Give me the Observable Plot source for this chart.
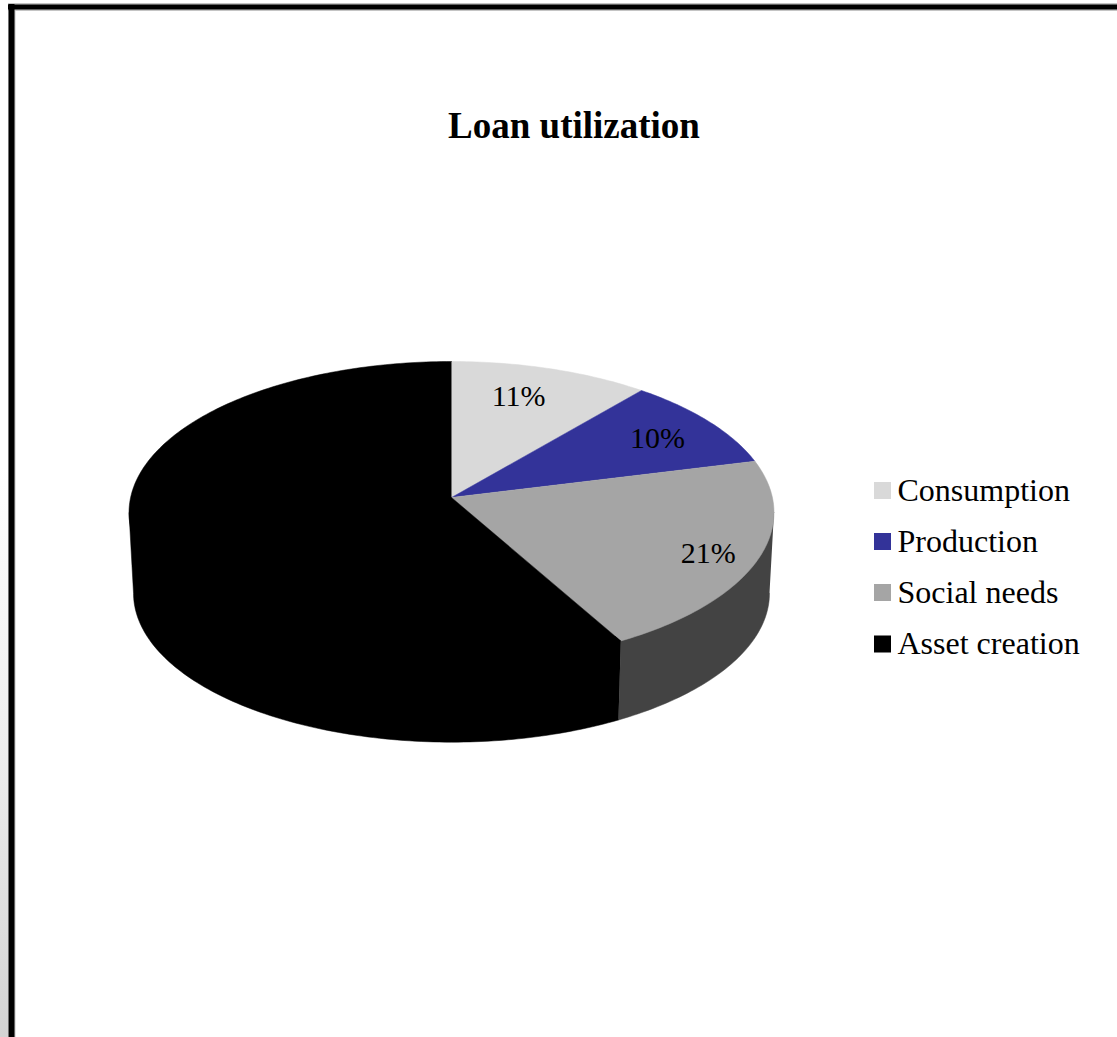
<!DOCTYPE html>
<html>
<head>
<meta charset="utf-8">
<script src="https://cdn.jsdelivr.net/npm/d3@7"></script>
<script src="https://cdn.jsdelivr.net/npm/@observablehq/plot@0.6"></script>
<style>
  html, body { margin: 0; padding: 0; background-color: #fff; }
  body {
    width: 1117px; height: 1037px; overflow: hidden;
    background-image: linear-gradient(to bottom, #fff 45%, #eee 72%, #d3d3d3 100%);
    background-size: 8px 100%;
    background-repeat: no-repeat;
  }
  svg { display: block; }
</style>
</head>
<body>
<div id="chart"></div>
<script>
// Loan utilization shares, in percent, clockwise from twelve o'clock
const categories = ["Consumption", "Production", "Social needs", "Asset creation"];
const shares = [11, 10, 21, 58];
const topColors = ["#d9d9d9", "#333399", "#a5a5a5", "#000000"];
const sideColors = ["#6d6d6d", "#1f1f5c", "#434343", "#000000"];

// Printed labels sit on the three visible slices, as polar spots on the disc
const labelTexts = ["11%", "10%", "21%"];
const labelAngles = [17.2, 58.4, 115.1];
const labelRadii = [0.758, 0.784, 0.852];

// Disc geometry: perspective tilt, projected radii and centre, cylinder height
const tilt = 0.0993, radiusX = 320.9, radiusY = 149.5;
const centerX = 451, centerY = 497, depth = 81, baseScale = 0.986;

// Perspective projection of a polar disc position onto the page
function project(angleDeg, r, level = 0) {
  const t = angleDeg * Math.PI / 180;
  const u = r * Math.sin(t), v = r * Math.cos(t);
  const w = 1 + tilt * v, s = level ? baseScale : 1;
  return {
    x: centerX + s * radiusX * u / w,
    y: centerY + level * depth - s * radiusY * v / w
  };
}

// Cumulative slice boundaries in degrees
const bounds = d3.cumsum(shares).map(c => c * 3.6);
const slices = categories.map((category, i) => ({
  category, from: i ? bounds[i - 1] : 0, to: bounds[i], side: sideColors[i]
}));

function arc(from, to, level, r = 1) {
  const n = Math.max(2, Math.ceil(Math.abs(to - from)));
  return d3.range(n + 1).map(k => project(from + (to - from) * k / n, r, level));
}

const topFaces = slices.flatMap(s =>
  [project(0, 0), ...arc(s.from, s.to, 0)].map(p => ({...p, category: s.category})));

// The wall shows only between the disc's two silhouette angles; its upper edge
// runs just inside the rim so the top face overlaps it without a seam
const silhouette = Math.acos(-tilt) * 180 / Math.PI;
const sideFaces = slices
  .map(s => ({...s, a: Math.max(s.from, silhouette), b: Math.min(s.to, 360 - silhouette)}))
  .filter(s => s.a < s.b)
  .map(s => [project(s.a, 1), ...arc(s.a, s.b, 0, 0.97), project(s.b, 1), ...arc(s.b, s.a, 1)]
    .map(p => ({...p, side: s.side})));

const labels = labelTexts.map((text, i) => ({text, ...project(labelAngles[i], labelRadii[i])}));

// Legend rows stacked at the right of the pie
const legendRows = [490, 541, 592, 643.5];
const legend = categories.map((category, i) => ({category, y: legendRows[i]}));

const serif = "'Liberation Serif', 'Times New Roman', serif";

const chart = Plot.plot({
  width: 1117,
  height: 1037,
  margin: 0,
  style: {background: "transparent", fontFamily: serif},
  x: {domain: [0, 1117], range: [0, 1117], axis: null},
  y: {domain: [0, 1037], range: [0, 1037], axis: null},
  color: {domain: categories, range: topColors},
  marks: [
    // Frame around the figure: a soft edge under the black line
    Plot.ruleY([6.5], {x1: 8, x2: 1117, stroke: "#c4c4c4", strokeWidth: 8}),
    Plot.ruleX([11.5], {y1: 3, y2: 1037, stroke: "#c4c4c4", strokeWidth: 7}),
    Plot.ruleY([6.5], {x1: 8, x2: 1117, stroke: "#000", strokeWidth: 5}),
    Plot.ruleX([11], {y1: 4, y2: 1037, stroke: "#000", strokeWidth: 6}),

    // Cylinder wall, then the top of the pie
    ...sideFaces.map(face => Plot.line(face, {x: "x", y: "y", fill: "side", stroke: "side", strokeWidth: 0.5, curve: "linear"})),
    Plot.line(topFaces, {x: "x", y: "y", z: "category", fill: "category", stroke: "category", strokeWidth: 0.5, curve: "linear"}),

    Plot.text(labels, {x: "x", y: "y", text: "text", fontSize: 30, fill: "#000"}),

    Plot.text(["Loan utilization"], {x: () => 573.5, y: () => 126, fontSize: 37, fontWeight: "bold", fill: "#000"}),

    Plot.dot(legend, {x: () => 882, y: "y", symbol: "square", r: 9.6, fill: "category", stroke: "none"}),
    Plot.text(legend, {x: () => 897, y: "y", text: "category", textAnchor: "start", fontSize: 32, fill: "#000"})
  ]
});

document.getElementById("chart").appendChild(chart);
</script>
</body>
</html>
